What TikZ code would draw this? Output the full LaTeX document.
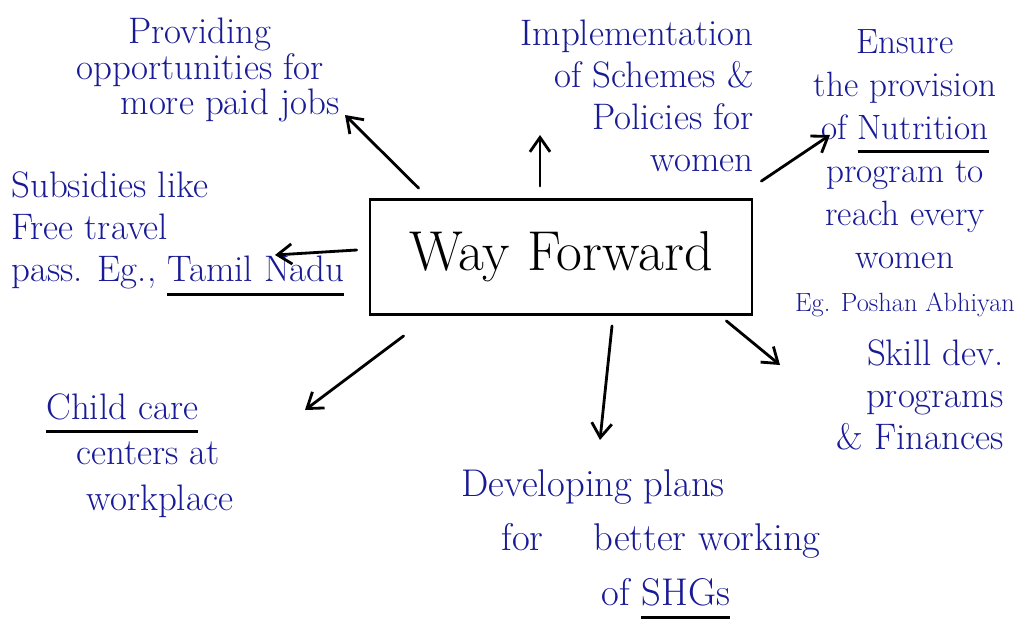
\documentclass[tikz,border=0pt]{standalone}
\usepackage{fontspec}
\usepackage{tikz}
\usetikzlibrary{arrows.meta}

\definecolor{ink}{RGB}{24,26,150}
% black hand underline below a word
\newcommand{\underink}[1]{\setbox0\hbox{#1}\rlap{\color{black}\rule[-8pt]{\wd0}{1.6pt}}\box0}

\begin{document}
\begin{tikzpicture}[x=0.02cm,y=-0.02cm,line width=1.6pt,
  idea/.style={text=ink,font=\fontsize{21}{24}\selectfont,inner sep=0pt},
  arr/.style={-{Straight Barb[angle=70:10pt]},line cap=round}]
\fill[white] (0,0) rectangle (1031,630);
\useasboundingbox (0,0) rectangle (1031,630);

\node[draw,minimum width=7.64cm,minimum height=2.3cm,
  font=\fontsize{32}{36}\selectfont] (box) at (561,257) {Way Forward};

%%% ideas round the box
\node[idea,align=center,font=\fontsize{21}{20}\selectfont] (jobs) at (200,70)
  {Providing\\opportunities for\\\hspace*{1.2cm}more paid jobs};
\node[idea,align=right,anchor=north east] (schemes) at (755,18)
  {Implementation\\of Schemes \&\hspace*{2.2cm}\\Policies for\\women};
\node[idea,align=center,font=\fontsize{20}{24.5}\selectfont] (nutrition) at (905,173)
  {Ensure\\the provision\\of \underink{Nutrition}\\program to\\reach every\\women\\{\fontsize{15}{17}\selectfont Eg. Poshan Abhiyan}};
\node[idea,align=left,anchor=north west] (travel) at (10,170)
  {Subsidies like\\Free travel\\pass. Eg., \underink{Tamil Nadu}};
\node[idea,align=left,anchor=north west,font=\fontsize{21}{26}\selectfont] (childcare) at (45,392)
  {\underink{Child care}\\\hspace*{0.6cm}centers at\\\hspace*{0.8cm}workplace};
\node[idea,align=left,anchor=north west,font=\fontsize{22}{31}\selectfont] (shg) at (460,468)
  {Developing plans\\\hspace*{0.8cm}for\hspace*{1cm}better working\\\hspace*{2.8cm}of \underink{SHGs}};
\node[idea,align=right,anchor=north east,font=\fontsize{21}{24}\selectfont] (skill) at (1005,338)
  {Skill dev.\\programs\\\& Finances};

%%% arrow heads
\coordinate (jobs-tip) at (345,115);
\coordinate (schemes-tip) at (540,135);
\coordinate (nutrition-tip) at (830,135);
\coordinate (travel-tip) at (275,255);
\coordinate (childcare-tip) at (305,410);
\coordinate (shg-tip) at (600,440);
\coordinate (skill-tip) at (780,365);

\draw[arr] ([shift={(50,-10)}]box.north west) -- (jobs-tip);
\draw[arr] ([shift={(-21,-12)}]box.north) -- (schemes-tip);
\draw[arr] ([shift={(8,-17)}]box.north east) -- (nutrition-tip);
\draw[arr] ([shift={(-12,-7)}]box.west) -- (travel-tip);
\draw[arr] ([shift={(35,20)}]box.south west) -- (childcare-tip);
\draw[arr] ([shift={(51,10)}]box.south) -- (shg-tip);
\draw[arr] ([shift={(-27,5)}]box.south east) -- (skill-tip);

\end{tikzpicture}
\end{document}
